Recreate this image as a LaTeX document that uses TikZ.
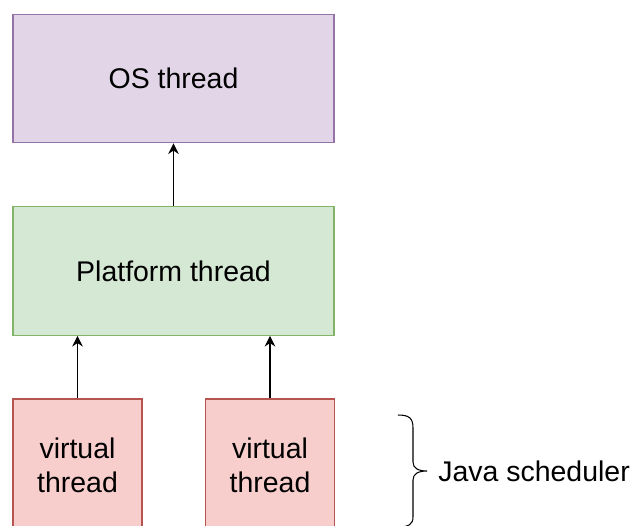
\documentclass[tikz,border=0pt]{standalone}
\usepackage{fontspec}
\setmainfont{Liberation Sans}
\usetikzlibrary{arrows.meta}

\definecolor{osfill}{HTML}{E1D5E7}
\definecolor{osline}{HTML}{9673A6}
\definecolor{platfill}{HTML}{D5E8D4}
\definecolor{platline}{HTML}{82B366}
\definecolor{vfill}{HTML}{F8CECC}
\definecolor{vline}{HTML}{B85450}

\begin{document}
\begin{tikzpicture}[x=0.02cm,y=-0.02cm,
  font=\fontsize{16.2}{19.5}\selectfont,
  widebox/.style={draw,line width=0.8pt,minimum width=6.42cm,minimum height=2.57cm,inner sep=0pt},
  vbox/.style={draw=vline,fill=vfill,line width=0.8pt,minimum width=2.58cm,minimum height=2.64cm,
    inner sep=0pt,align=center},
  arr/.style={-{Stealth[length=6pt,width=6pt]},line width=0.6pt}]
\useasboundingbox (0,0) rectangle (635,525);

\node[widebox,draw=osline,fill=osfill] (os) at (173.5,78.5) {OS thread};
\node[widebox,draw=platline,fill=platfill] (plat) at (173.5,271) {Platform thread};
\node[vbox] (v1) at (77.5,465) {virtual\\thread};
\node[vbox] (v2) at (270,465) {virtual\\thread};

\draw[arr] (plat.north) -- (os.south);
\draw[arr] (v1.north) -- (v1.north |- plat.south);
\draw[arr] (v2.north) -- (v2.north |- plat.south);

% curly bracket for the scheduler
\coordinate (tip) at (427,471);
\draw[line width=0.6pt] (398,415) .. controls (409,415) and (413,418) .. (413,428)
  -- (413,462) .. controls (413,468) and (418,471) .. (tip)
  .. controls (418,471) and (413,474) .. (413,480)
  -- (413,517) .. controls (413,524) and (409,527) .. (398,527);
\node[anchor=west,inner sep=0pt] (sched) at (438,471) {Java scheduler};
\end{tikzpicture}
\end{document}
